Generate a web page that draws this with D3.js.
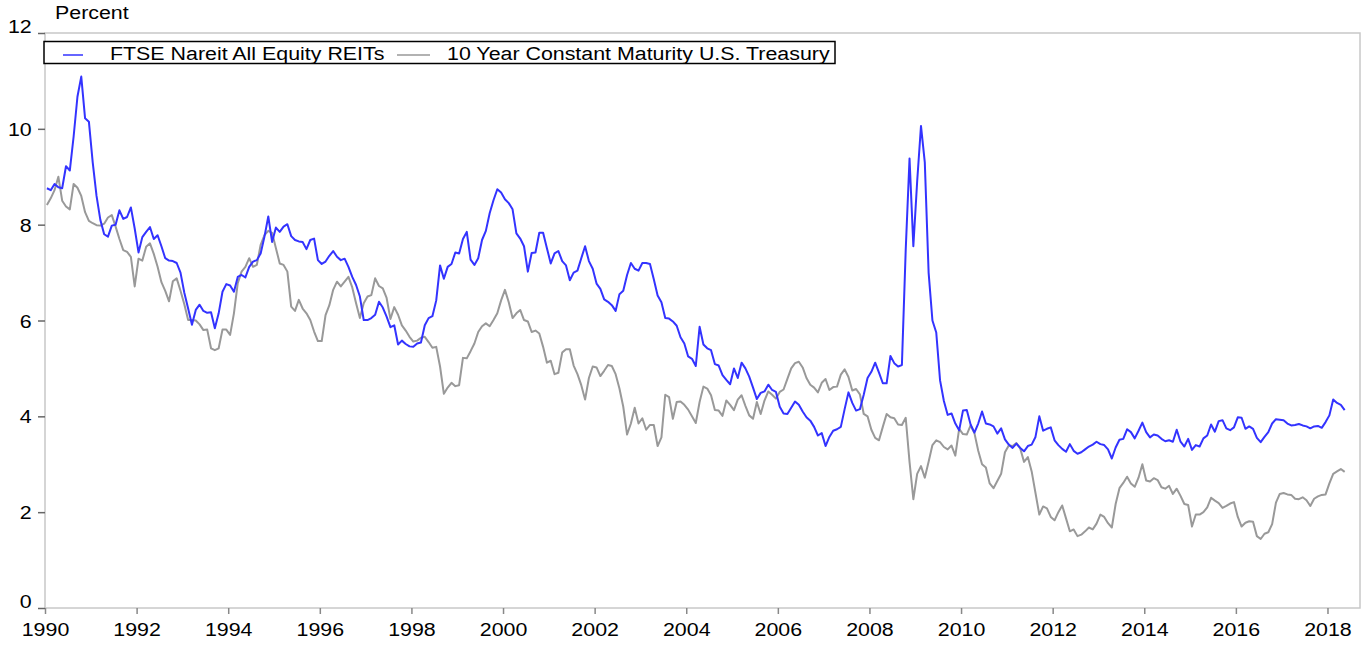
<!DOCTYPE html>
<html>
<head>
<meta charset="utf-8">
<script src="https://cdn.jsdelivr.net/npm/d3@7"></script>
<style>
  html, body { margin: 0; padding: 0; background: #fff; }
  text { font-family: "Liberation Sans", Arial, sans-serif; fill: #000; }
</style>
</head>
<body>
<div id="chart"></div>
<script>
// monthly yields, Jan 1990 .. May 2018
const startYear = 1990
const reitYield = [
  8.76, 8.72, 8.85, 8.78, 8.76, 9.22, 9.13, 9.84, 10.67, 11.09, 10.22, 10.15,
  9.3, 8.6, 8.1, 7.8, 7.75, 7.98, 8.0, 8.3, 8.12, 8.16, 8.36, 7.92,
  7.42, 7.74, 7.85, 7.95, 7.70, 7.78, 7.55, 7.30, 7.25, 7.24, 7.2, 7.0,
  6.58, 6.25, 5.91, 6.22, 6.33, 6.2, 6.16, 6.17, 5.84, 6.15, 6.60, 6.76,
  6.73, 6.60, 6.91, 6.95, 6.90, 7.12, 7.23, 7.26, 7.40, 7.75, 8.17, 7.64,
  7.94, 7.85, 7.96, 8.01, 7.76, 7.68, 7.65, 7.64, 7.49, 7.68, 7.71, 7.26,
  7.18, 7.23, 7.35, 7.45, 7.33, 7.26, 7.29, 7.12, 6.91, 6.74, 6.50, 6.01,
  6.01, 6.05, 6.12, 6.39, 6.27, 6.08, 5.86, 5.90, 5.50, 5.58, 5.51, 5.46,
  5.45, 5.52, 5.54, 5.9, 6.05, 6.09, 6.42, 7.15, 6.87, 7.12, 7.18, 7.42,
  7.40, 7.7, 7.85, 7.27, 7.16, 7.30, 7.68, 7.87, 8.24, 8.51, 8.74, 8.67,
  8.53, 8.45, 8.32, 7.82, 7.71, 7.55, 7.02, 7.41, 7.42, 7.83, 7.83, 7.51,
  7.19, 7.40, 7.45, 7.24, 7.15, 6.84, 7.0, 7.04, 7.30, 7.55, 7.24, 7.08,
  6.77, 6.66, 6.44, 6.39, 6.32, 6.20, 6.55, 6.62, 6.95, 7.2, 7.08, 7.04,
  7.2, 7.2, 7.18, 6.86, 6.52, 6.38, 6.05, 6.04, 5.98, 5.89, 5.65, 5.52,
  5.25, 5.20, 5.05, 5.87, 5.5, 5.42, 5.38, 5.09, 5.06, 4.86, 4.76, 4.67,
  5.0, 4.8, 5.12, 5.0, 4.83, 4.6, 4.36, 4.49, 4.52, 4.66, 4.55, 4.51,
  4.2, 4.06, 4.05, 4.18, 4.31, 4.24, 4.1, 3.98, 3.91, 3.78, 3.6, 3.65,
  3.38, 3.57, 3.70, 3.73, 3.78, 4.15, 4.50, 4.28, 4.12, 4.15, 4.45, 4.8,
  4.93, 5.12, 4.91, 4.69, 4.69, 5.26, 5.11, 5.04, 5.07, 7.47, 9.38, 7.55,
  8.9, 10.06, 9.3, 7.0, 6.0, 5.75, 4.75, 4.32, 4.03, 4.06, 3.85, 3.71,
  4.12, 4.13, 3.83, 3.66, 3.85, 4.1, 3.85, 3.83, 3.79, 3.64, 3.75, 3.52,
  3.41, 3.34, 3.43, 3.34, 3.27, 3.38, 3.41, 3.57, 4.0, 3.7, 3.74, 3.77,
  3.5, 3.40, 3.32, 3.26, 3.42, 3.28, 3.22, 3.25, 3.31, 3.37, 3.41, 3.47,
  3.42, 3.40, 3.31, 3.12, 3.35, 3.51, 3.53, 3.73, 3.67, 3.54, 3.70, 3.87,
  3.67, 3.56, 3.62, 3.6, 3.53, 3.48, 3.5, 3.47, 3.72, 3.47, 3.37, 3.53,
  3.3, 3.40, 3.37, 3.54, 3.6, 3.83, 3.68, 3.9, 3.92, 3.75, 3.71, 3.77,
  3.98, 3.97, 3.74, 3.79, 3.74, 3.55, 3.46, 3.57, 3.67, 3.85, 3.94, 3.93,
  3.92, 3.85, 3.81, 3.82, 3.84, 3.81, 3.79, 3.75, 3.79, 3.80, 3.76, 3.88,
  4.02, 4.35, 4.28, 4.24, 4.13
]
const treasury10y = [
  8.41, 8.55, 8.72, 9.0, 8.5, 8.38, 8.32, 8.85, 8.77, 8.60, 8.26, 8.08,
  8.03, 7.99, 7.98, 8.02, 8.15, 8.2, 7.96, 7.7, 7.47, 7.43, 7.33, 6.71,
  7.29, 7.25, 7.54, 7.61, 7.39, 7.12, 6.8, 6.62, 6.4, 6.82, 6.88, 6.62,
  6.34, 6.01, 6.01, 6.0, 5.92, 5.80, 5.81, 5.42, 5.38, 5.42, 5.81, 5.81,
  5.70, 6.15, 6.78, 7.02, 7.12, 7.30, 7.12, 7.16, 7.58, 7.78, 7.87, 7.83,
  7.51, 7.19, 7.16, 7.02, 6.29, 6.20, 6.43, 6.25, 6.15, 6.01, 5.77, 5.57,
  5.57, 6.11, 6.32, 6.64, 6.81, 6.71, 6.81, 6.91, 6.69, 6.36, 6.05, 6.36,
  6.50, 6.53, 6.88, 6.72, 6.67, 6.47, 6.03, 6.28, 6.12, 5.90, 5.79, 5.66,
  5.56, 5.58, 5.64, 5.66, 5.55, 5.43, 5.45, 5.04, 4.47, 4.60, 4.70, 4.63,
  4.65, 5.22, 5.21, 5.36, 5.52, 5.76, 5.88, 5.94, 5.88, 6.01, 6.15, 6.42,
  6.64, 6.38, 6.05, 6.15, 6.22, 6.01, 5.98, 5.76, 5.79, 5.73, 5.45, 5.12,
  5.16, 4.88, 4.91, 5.33, 5.40, 5.40, 5.06, 4.88, 4.65, 4.35, 4.8, 5.04,
  5.02, 4.84, 4.95, 5.07, 5.05, 4.88, 4.58, 4.2, 3.62, 3.85, 4.18, 3.85,
  3.96, 3.72, 3.82, 3.82, 3.38, 3.56, 4.45, 4.40, 3.95, 4.30, 4.31, 4.24,
  4.14, 4.0, 3.86, 4.3, 4.62, 4.58, 4.44, 4.13, 4.12, 4.01, 4.33, 4.24,
  4.13, 4.35, 4.44, 4.22, 4.02, 3.95, 4.3, 4.05, 4.33, 4.52, 4.45, 4.37,
  4.51, 4.56, 4.78, 5.0, 5.11, 5.14, 5.02, 4.8, 4.66, 4.6, 4.5, 4.7,
  4.78, 4.55, 4.61, 4.62, 4.87, 4.98, 4.82, 4.54, 4.57, 4.46, 4.05, 4.0,
  3.72, 3.55, 3.5, 3.78, 4.05, 3.98, 3.96, 3.83, 3.82, 3.97, 3.05, 2.27,
  2.8, 2.96, 2.72, 3.05, 3.4, 3.5, 3.46, 3.36, 3.31, 3.39, 3.18, 3.74,
  3.63, 3.62, 3.81, 3.65, 3.28, 3.0, 2.93, 2.6, 2.5, 2.65, 2.8, 3.25,
  3.39, 3.38, 3.44, 3.33, 3.05, 3.15, 2.85, 2.4, 1.95, 2.12, 2.08, 1.9,
  1.83, 2.0, 2.14, 1.87, 1.6, 1.64, 1.5, 1.53, 1.6, 1.68, 1.64, 1.76,
  1.95, 1.9, 1.77, 1.68, 2.17, 2.5, 2.61, 2.74, 2.6, 2.53, 2.72, 3.0,
  2.66, 2.64, 2.71, 2.67, 2.52, 2.49, 2.55, 2.38, 2.49, 2.34, 2.17, 2.15,
  1.7, 1.95, 1.95, 2.0, 2.1, 2.3, 2.24, 2.19, 2.09, 2.13, 2.18, 2.21,
  1.9, 1.7, 1.78, 1.81, 1.80, 1.5, 1.44, 1.55, 1.58, 1.75, 2.2, 2.38,
  2.40, 2.37, 2.36, 2.28, 2.27, 2.31, 2.25, 2.13, 2.28, 2.33, 2.36, 2.37,
  2.6, 2.8, 2.85, 2.9, 2.84
]
const seriesNames = ["FTSE Nareit All Equity REITs", "10 Year Constant Maturity U.S. Treasury"]
const seriesColors = ["#3333ff", "#999999"]
const yTicks = [0, 2, 4, 6, 8, 10, 12]
const xTicks = d3.range(1990, 2019, 2)
const yTitle = "Percent"

const width = 1365
const height = 645
const margin = ({ top: 33, right: 5, bottom: 37, left: 45 })
const stretch = 1.15   // text in the original is drawn wide
const fontSize = 18.6

var x = d3.scaleLinear()
    .domain([1990, 2018.71])
    .range([margin.left, width - margin.right])

var y = d3.scaleLinear()
    .domain([0, 12])
    .range([height - margin.bottom, margin.top])

var svg = d3.select('#chart')
    .append('svg')
    .attr('width', width)
    .attr('height', height)

// frame
svg.append('rect')
    .attr('x', margin.left)
    .attr('y', margin.top)
    .attr('width', width - margin.right - margin.left)
    .attr('height', height - margin.bottom - margin.top)
    .attr('fill', 'none')
    .attr('stroke', '#c8c8c8')
    .attr('stroke-width', 1.5)

xAxis = g => g
    .attr('transform', `translate(0,${height - margin.bottom})`)
    .call(d3.axisBottom(x).tickValues(xTicks).tickFormat(d3.format('d')).tickSizeOuter(0).tickSize(6).tickPadding(9))
    .call(g => g.select('.domain').remove())
    .call(g => g.selectAll('.tick line').attr('stroke', '#888').attr('stroke-width', 1.5))
    .call(g => g.selectAll('.tick text')
        .attr('font-size', fontSize)
        .attr('fill', '#000')
        .attr('transform', `scale(${stretch},1)`))

yAxis = g => g
    .attr('transform', `translate(${margin.left},0)`)
    .call(d3.axisLeft(y).tickValues(yTicks).tickSize(7).tickSizeOuter(0))
    .call(g => g.select('.domain').remove())
    .call(g => g.selectAll('.tick line').attr('stroke', '#666').attr('stroke-width', 1.5))
    .call(g => g.selectAll('.tick text')
        .attr('font-size', fontSize)
        .attr('fill', '#000')
        .attr('x', -13.3 / stretch)
        .attr('dy', d => (d === 0 || d === 12) ? '-0.05em' : '0.35em')
        .attr('transform', `scale(${stretch},1)`))

svg.append('g').call(xAxis)
svg.append('g').call(yAxis)

svg.append('text')
    .attr('transform', `translate(55,18.5) scale(${stretch},1)`)
    .attr('font-size', fontSize)
    .text(yTitle)

// lines
var line = d3.line()
    .x((d, i) => x(startYear + (i + 0.5) / 12))
    .y(d => y(d))

svg.append('path')
    .datum(treasury10y)
    .attr('fill', 'none')
    .attr('stroke', seriesColors[1])
    .attr('stroke-width', 2)
    .attr('stroke-linejoin', 'round')
    .attr('d', line)

svg.append('path')
    .datum(reitYield)
    .attr('fill', 'none')
    .attr('stroke', seriesColors[0])
    .attr('stroke-width', 2)
    .attr('stroke-linejoin', 'round')
    .attr('d', line)

// legend
var lg = svg.append('g')
lg.append('rect')
    .attr('x', 44)
    .attr('y', 41.5)
    .attr('width', 791)
    .attr('height', 22)
    .attr('fill', '#fff')
    .attr('stroke', '#000')
    .attr('stroke-width', 1.5)

var legendPos = [{ lx: 63, lw: 20, tx: 110 }, { lx: 397, lw: 33, tx: 447 }]
seriesNames.forEach((name, i) => {
    var p = legendPos[i]
    lg.append('line')
        .attr('x1', p.lx).attr('x2', p.lx + p.lw)
        .attr('y1', 55).attr('y2', 55)
        .attr('stroke', seriesColors[i])
        .attr('stroke-width', 1.5)
    lg.append('text')
        .attr('transform', `translate(${p.tx},60) scale(${stretch},1)`)
        .attr('font-size', fontSize)
        .text(name)
})
</script>
</body>
</html>
